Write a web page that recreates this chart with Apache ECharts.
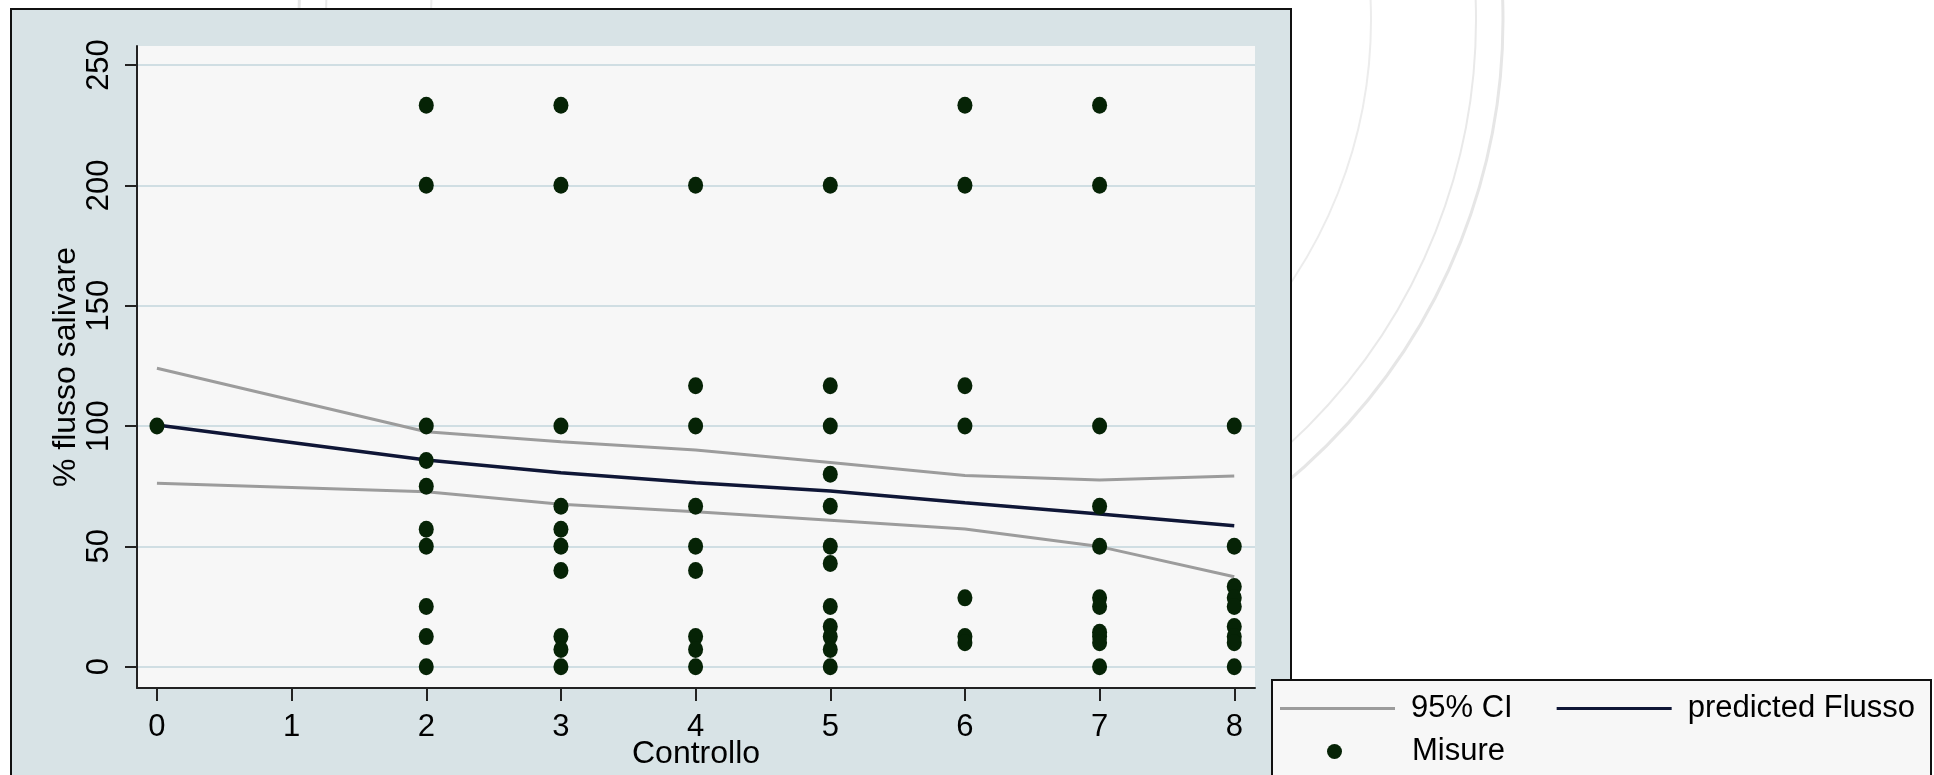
<!DOCTYPE html>
<html>
<head>
<meta charset="utf-8">
<title>Flusso salivare</title>
<script src="https://cdn.jsdelivr.net/npm/echarts@6/dist/echarts.min.js"></script>
<style>
  html, body { margin: 0; padding: 0; background: #fff; }
  #chart { width: 1934px; height: 775px; }
</style>
</head>
<body>
<div id="chart"></div>
<script>
// asse x (Controllo) e valori
const controllo = [0, 2, 3, 4, 5, 6, 7, 8]
const ciUpper = [124, 97.6, 93.5, 90, 84.8, 79.4, 77.6, 79.2]
const ciLower = [76.2, 72.7, 67.5, 64.4, 60.9, 57.2, 49.9, 37.4]
const predicted = [100.4, 85.9, 80.6, 76.4, 73, 68.1, 63.4, 58.6]

// misure per ogni valore di Controllo
const misure0 = [100]
const misure2 = [233.3, 200, 100, 85.7, 75, 57.1, 50, 25, 12.5, 0]
const misure3 = [233.3, 200, 100, 66.7, 57.1, 50, 40, 12.5, 7.1, 0]
const misure4 = [200, 116.7, 100, 66.7, 50, 40, 12.5, 7.1, 0]
const misure5 = [200, 116.7, 100, 80, 66.7, 50, 42.9, 25, 16.7, 12.5, 7.1, 0]
const misure6 = [233.3, 200, 116.7, 100, 28.6, 12.5, 10]
const misure7 = [233.3, 200, 100, 66.7, 50, 28.6, 25, 14.3, 12.5, 10, 0]
const misure8 = [100, 50, 33.3, 28.6, 25, 16.7, 12.5, 10, 0]

const xTicks = [0, 1, 2, 3, 4, 5, 6, 7, 8]
const yTicks = [0, 50, 100, 150, 200, 250]

const misureGroups = [misure0, misure2, misure3, misure4, misure5, misure6, misure7, misure8]
const misureData = []
misureGroups.forEach((vals, i) => {
  vals.forEach(v => misureData.push([controllo[i], v]))
})
const pair = arr => arr.map((v, i) => [controllo[i], v])

const font = 'Liberation Sans, Arial, sans-serif'
const grey = '#9c9c9c'
const navy = '#0f1636'
const dotColor = '#062306'

const chart = echarts.init(document.getElementById('chart'))
chart.setOption({
  backgroundColor: '#fff',
  animation: false,
  textStyle: { fontFamily: font },
  graphic: [
    // filigrana (sigillo) sullo sfondo
    { type: 'circle', z: -20, shape: { cx: 901, cy: 20, r: 602 }, style: { fill: 'none', stroke: '#e6e6e6', lineWidth: 3 } },
    { type: 'circle', z: -20, shape: { cx: 901, cy: 20, r: 575 }, style: { fill: 'none', stroke: '#e9e9e9', lineWidth: 2 } },
    { type: 'circle', z: -20, shape: { cx: 901, cy: 20, r: 470 }, style: { fill: 'none', stroke: '#ececec', lineWidth: 2 } },
    // cornice del grafico
    { type: 'rect', z: -10, shape: { x: 11, y: 9, width: 1280, height: 800 }, style: { fill: '#d8e3e6', stroke: '#111', lineWidth: 2 } },
    // riquadro legenda
    { type: 'rect', z: 3, shape: { x: 1272, y: 680, width: 659, height: 120 }, style: { fill: '#f7f7f7', stroke: '#111', lineWidth: 2 } }
  ],
  grid: {
    left: 137,
    right: 679,
    top: 46,
    bottom: 87,
    containLabel: false,
    outerBoundsMode: 'none',
    show: true,
    backgroundColor: '#f7f7f7',
    borderWidth: 0
  },
  legend: [
    {
      data: [
        { name: '95% CI', icon: 'rect' },
        { name: 'predicted Flusso', icon: 'rect' }
      ],
      left: 1280,
      top: 693,
      padding: 0,
      itemWidth: 115,
      itemHeight: 3,
      itemGap: 44,
      selectedMode: false,
      textStyle: { fontSize: 31, color: '#000', fontFamily: font, padding: [0, 0, 0, 11] }
    },
    {
      data: [{ name: 'Misure', icon: 'circle' }],
      left: 1327,
      top: 736,
      padding: 0,
      itemWidth: 15,
      itemHeight: 17,
      selectedMode: false,
      textStyle: { fontSize: 31, color: '#000', fontFamily: font, padding: [0, 0, 0, 65] }
    }
  ],
  xAxis: {
    type: 'value',
    min: -0.148,
    max: 8.154,
    name: 'Controllo',
    nameLocation: 'middle',
    nameGap: 50,
    nameMoveOverlap: false,
    nameTextStyle: { fontSize: 32, color: '#000', fontFamily: font },
    axisLine: { show: true, onZero: false, lineStyle: { color: '#222', width: 2 } },
    axisTick: { show: true, length: 13, customValues: xTicks, lineStyle: { color: '#222', width: 2 } },
    axisLabel: { customValues: xTicks, fontSize: 31, color: '#000', margin: 24 },
    splitLine: { show: false }
  },
  yAxis: {
    type: 'value',
    min: -8.85,
    max: 257.9,
    name: '% flusso salivare',
    nameLocation: 'middle',
    nameGap: 55,
    nameMoveOverlap: false,
    nameTextStyle: { fontSize: 32, color: '#000', fontFamily: font },
    axisLine: { show: true, onZero: false, lineStyle: { color: '#222', width: 2 } },
    axisTick: { show: true, length: 12, customValues: yTicks, lineStyle: { color: '#222', width: 2 } },
    axisLabel: { customValues: yTicks, rotate: 90, fontSize: 31, color: '#000', margin: 22 },
    splitLine: { show: true, lineStyle: { color: '#d0dee3', width: 2 } }
  },
  series: [
    {
      name: '95% CI',
      type: 'line',
      data: pair(ciUpper),
      symbol: 'none',
      lineStyle: { color: grey, width: 3 },
      itemStyle: { color: grey },
      z: 2
    },
    {
      name: '95% CI',
      type: 'line',
      data: pair(ciLower),
      symbol: 'none',
      lineStyle: { color: grey, width: 3 },
      itemStyle: { color: grey },
      z: 2
    },
    {
      name: 'predicted Flusso',
      type: 'line',
      data: pair(predicted),
      symbol: 'none',
      lineStyle: { color: navy, width: 3.5 },
      itemStyle: { color: navy },
      z: 3
    },
    {
      name: 'Misure',
      type: 'scatter',
      data: misureData,
      symbol: 'circle',
      symbolSize: [15, 17],
      itemStyle: { color: dotColor, opacity: 1 },
      z: 4
    }
  ]
})
</script>
</body>
</html>
